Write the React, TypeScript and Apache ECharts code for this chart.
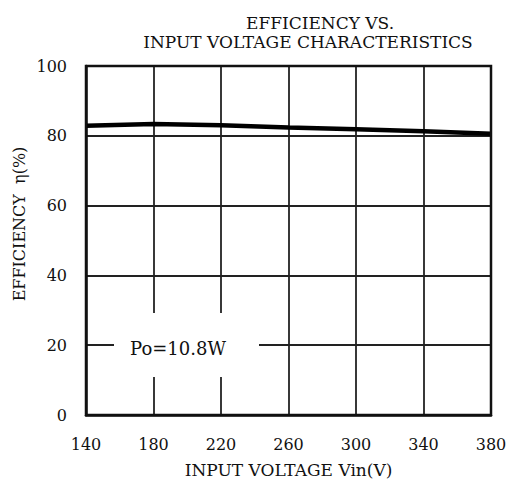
import React, { useEffect, useRef } from "react";
import * as echarts from "echarts";

const voltages = [140, 180, 220, 260, 300, 340, 380];
const efficiency = [82.9, 83.4, 83.0, 82.4, 81.9, 81.3, 80.6];
const xTicks = { min: 140, max: 380, interval: 40 };
const yTicks = { min: 0, max: 100, interval: 20 };
const titleLines = ["EFFICIENCY VS.", "INPUT VOLTAGE CHARACTERISTICS"];
const xName = "INPUT VOLTAGE Vin(V)";
const yName = "EFFICIENCY  η(%)";
const note = "Po=10.8W";

const FONT = "'DejaVu Serif', 'Liberation Serif', serif";

export default function App() {
  const ref = useRef<HTMLDivElement>(null);
  useEffect(() => {
    if (!ref.current) return;
    const chart = echarts.init(ref.current, null, { renderer: "svg" });
    const L = 86, R = 19, T = 66, B = 72;
    chart.setOption({
      animation: false,
      backgroundColor: "#fff",
      textStyle: { fontFamily: FONT, color: "#111" },
      title: [
        {
          text: titleLines[0],
          left: 315,
          top: 9,
          textAlign: "center",
          textStyle: { fontFamily: FONT, fontSize: 17, fontWeight: "normal", color: "#111" },
        },
        {
          text: titleLines[1],
          left: 303,
          top: 28,
          textAlign: "center",
          textStyle: { fontFamily: FONT, fontSize: 17, fontWeight: "normal", color: "#111" },
        },
      ],
      grid: { left: L, right: R, top: T, bottom: B, containLabel: false },
      xAxis: {
        type: "value",
        min: xTicks.min,
        max: xTicks.max,
        interval: xTicks.interval,
        name: xName,
        nameLocation: "middle",
        nameGap: 46,
        nameTextStyle: { fontFamily: FONT, fontSize: 17, color: "#111" },
        axisLine: { show: true, lineStyle: { color: "#111", width: 2.5 } },
        axisTick: { show: false },
        axisLabel: { fontFamily: FONT, fontSize: 16, color: "#111", margin: 21 },
        splitLine: { show: true, lineStyle: { color: "#222", width: 1.8 } },
      },
      yAxis: {
        type: "value",
        min: yTicks.min,
        max: yTicks.max,
        interval: yTicks.interval,
        axisLine: { show: true, lineStyle: { color: "#111", width: 2.5 } },
        axisTick: { show: false },
        axisLabel: { fontFamily: FONT, fontSize: 16, color: "#111", margin: 19 },
        splitLine: { show: true, lineStyle: { color: "#222", width: 1.8 } },
      },
      graphic: [
        {
          type: "rect",
          z: 100,
          shape: { x: 114, y: 313, width: 145, height: 64 },
          style: { fill: "#fff" },
        },
        {
          type: "text",
          z: 101,
          x: 178,
          y: 348,
          style: {
            text: note,
            fontFamily: FONT,
            fontSize: 18,
            fill: "#111",
            align: "center",
            verticalAlign: "middle",
          },
        },
        {
          type: "text",
          z: 101,
          x: 19,
          y: 224,
          rotation: Math.PI / 2,
          style: {
            text: yName,
            fontFamily: FONT,
            fontSize: 16,
            fill: "#111",
            align: "center",
            verticalAlign: "middle",
          },
        },
        {
          type: "rect",
          z: 102,
          shape: { x: L, y: T, width: 510 - L - R, height: 487 - T - B },
          style: { fill: "none", stroke: "#111", lineWidth: 2.5 },
        },
      ],
      series: [
        {
          type: "line",
          data: voltages.map((v, i) => [v, efficiency[i]]),
          showSymbol: false,
          symbol: "none",
          lineStyle: { color: "#000", width: 4.5 },
          z: 10,
        },
      ],
    });
    return () => chart.dispose();
  }, []);
  return (
    <div
      ref={ref}
      style={{ position: "absolute", left: 0, top: 0, width: 510, height: 487 }}
    />
  );
}
